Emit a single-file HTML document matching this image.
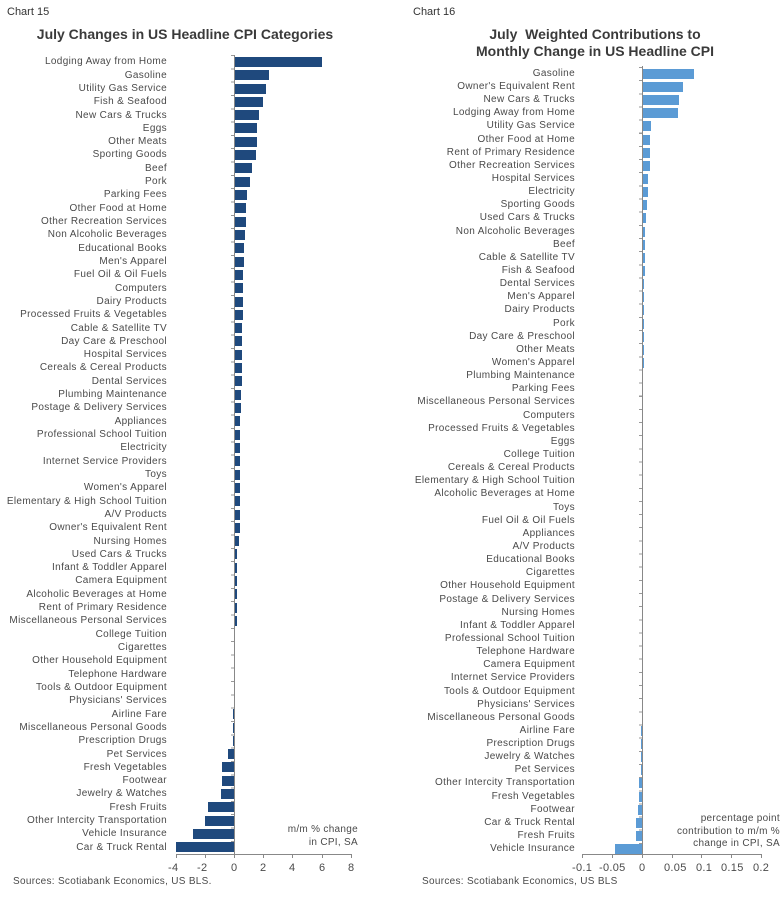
<!DOCTYPE html>
<html><head><meta charset="utf-8"><style>
body{margin:0;width:780px;height:898px;background:#fff;position:relative;overflow:hidden;font-family:"Liberation Sans",Arial,sans-serif;color:#4a4a4a}
.a{position:absolute;white-space:nowrap}
.ct{font-family:"Liberation Sans Narrow","Liberation Sans",sans-serif;font-size:11px;color:#333}
.tt{font-weight:bold;font-size:14px;color:#3a3a3a;text-align:center}
.rows{position:absolute;left:0}
.r{position:relative;font-size:10px;letter-spacing:0.35px}
.r span{position:absolute;right:0;text-align:right;white-space:nowrap}
.r i{position:absolute}
#L .r{height:13.32px;width:167px}
#L .r span{top:1px}
#L .r i{top:1.6px;height:10px;background:#1f497d}
#R .r{height:13.15px;width:575px}
#R .r span{top:0.5px}
#R .r i{top:1.5px;height:10px;background:#5b9bd5}
.sm{font-size:10px;color:#4a4a4a;letter-spacing:0.3px}
</style></head><body>
<div class="a ct" style="left:7px;top:6px">Chart 15</div>
<div class="a tt" style="left:0;width:370px;top:26px">July Changes in US Headline CPI Categories</div>
<div class="a ct" style="left:413px;top:6px">Chart 16</div>
<div class="a tt" style="left:445px;width:300px;top:26px;line-height:17px">July &nbsp;Weighted Contributions to<br>Monthly Change in US Headline CPI</div>

<div class="rows" id="L" style="top:55.3px">
<div class="r"><span>Lodging Away from Home</span><i style="left:234px;width:88px"></i></div>
<div class="r"><span>Gasoline</span><i style="left:234px;width:35px"></i></div>
<div class="r"><span>Utility Gas Service</span><i style="left:234px;width:32px"></i></div>
<div class="r"><span>Fish &amp; Seafood</span><i style="left:234px;width:29px"></i></div>
<div class="r"><span>New Cars &amp; Trucks</span><i style="left:234px;width:25px"></i></div>
<div class="r"><span>Eggs</span><i style="left:234px;width:23px"></i></div>
<div class="r"><span>Other Meats</span><i style="left:234px;width:23px"></i></div>
<div class="r"><span>Sporting Goods</span><i style="left:234px;width:22px"></i></div>
<div class="r"><span>Beef</span><i style="left:234px;width:18px"></i></div>
<div class="r"><span>Pork</span><i style="left:234px;width:16px"></i></div>
<div class="r"><span>Parking Fees</span><i style="left:234px;width:13px"></i></div>
<div class="r"><span>Other Food at Home</span><i style="left:234px;width:12px"></i></div>
<div class="r"><span>Other Recreation Services</span><i style="left:234px;width:12px"></i></div>
<div class="r"><span>Non Alcoholic Beverages</span><i style="left:234px;width:11px"></i></div>
<div class="r"><span>Educational Books</span><i style="left:234px;width:10px"></i></div>
<div class="r"><span>Men's Apparel</span><i style="left:234px;width:10px"></i></div>
<div class="r"><span>Fuel Oil &amp; Oil Fuels</span><i style="left:234px;width:9px"></i></div>
<div class="r"><span>Computers</span><i style="left:234px;width:9px"></i></div>
<div class="r"><span>Dairy Products</span><i style="left:234px;width:9px"></i></div>
<div class="r"><span>Processed Fruits &amp; Vegetables</span><i style="left:234px;width:9px"></i></div>
<div class="r"><span>Cable &amp; Satellite TV</span><i style="left:234px;width:8px"></i></div>
<div class="r"><span>Day Care &amp; Preschool</span><i style="left:234px;width:8px"></i></div>
<div class="r"><span>Hospital Services</span><i style="left:234px;width:8px"></i></div>
<div class="r"><span>Cereals &amp; Cereal Products</span><i style="left:234px;width:8px"></i></div>
<div class="r"><span>Dental Services</span><i style="left:234px;width:7.5px"></i></div>
<div class="r"><span>Plumbing Maintenance</span><i style="left:234px;width:6.5px"></i></div>
<div class="r"><span>Postage &amp; Delivery Services</span><i style="left:234px;width:6.5px"></i></div>
<div class="r"><span>Appliances</span><i style="left:234px;width:6px"></i></div>
<div class="r"><span>Professional School Tuition</span><i style="left:234px;width:6px"></i></div>
<div class="r"><span>Electricity</span><i style="left:234px;width:6px"></i></div>
<div class="r"><span>Internet Service Providers</span><i style="left:234px;width:6px"></i></div>
<div class="r"><span>Toys</span><i style="left:234px;width:6px"></i></div>
<div class="r"><span>Women's Apparel</span><i style="left:234px;width:5.5px"></i></div>
<div class="r"><span>Elementary &amp; High School Tuition</span><i style="left:234px;width:5.5px"></i></div>
<div class="r"><span>A/V Products</span><i style="left:234px;width:5.5px"></i></div>
<div class="r"><span>Owner's Equivalent Rent</span><i style="left:234px;width:5.5px"></i></div>
<div class="r"><span>Nursing Homes</span><i style="left:234px;width:5px"></i></div>
<div class="r"><span>Used Cars &amp; Trucks</span><i style="left:234px;width:3px"></i></div>
<div class="r"><span>Infant &amp; Toddler Apparel</span><i style="left:234px;width:3px"></i></div>
<div class="r"><span>Camera Equipment</span><i style="left:234px;width:3px"></i></div>
<div class="r"><span>Alcoholic Beverages at Home</span><i style="left:234px;width:3px"></i></div>
<div class="r"><span>Rent of Primary Residence</span><i style="left:234px;width:3px"></i></div>
<div class="r"><span>Miscellaneous Personal Services</span><i style="left:234px;width:2.5px"></i></div>
<div class="r"><span>College Tuition</span><i style="left:234px;width:1px"></i></div>
<div class="r"><span>Cigarettes</span><i style="left:234px;width:0.5px"></i></div>
<div class="r"><span>Other Household Equipment</span><i style="left:234px;width:0.5px"></i></div>
<div class="r"><span>Telephone Hardware</span><i style="left:234px;width:0.5px"></i></div>
<div class="r"><span>Tools &amp; Outdoor Equipment</span><i style="left:234px;width:0px"></i></div>
<div class="r"><span>Physicians' Services</span><i style="left:234px;width:0px"></i></div>
<div class="r"><span>Airline Fare</span><i style="left:232.5px;width:1.5px"></i></div>
<div class="r"><span>Miscellaneous Personal Goods</span><i style="left:232.5px;width:1.5px"></i></div>
<div class="r"><span>Prescription Drugs</span><i style="left:232.5px;width:1.5px"></i></div>
<div class="r"><span>Pet Services</span><i style="left:228px;width:6px"></i></div>
<div class="r"><span>Fresh Vegetables</span><i style="left:222px;width:12px"></i></div>
<div class="r"><span>Footwear</span><i style="left:222px;width:12px"></i></div>
<div class="r"><span>Jewelry &amp; Watches</span><i style="left:221px;width:13px"></i></div>
<div class="r"><span>Fresh Fruits</span><i style="left:208px;width:26px"></i></div>
<div class="r"><span>Other Intercity Transportation</span><i style="left:205px;width:29px"></i></div>
<div class="r"><span>Vehicle Insurance</span><i style="left:193px;width:41px"></i></div>
<div class="r"><span>Car &amp; Truck Rental</span><i style="left:176px;width:58px"></i></div>
</div>

<div class="rows" id="R" style="top:67.4px">
<div class="r"><span>Gasoline</span><i style="left:642px;width:52px"></i></div>
<div class="r"><span>Owner's Equivalent Rent</span><i style="left:642px;width:41px"></i></div>
<div class="r"><span>New Cars &amp; Trucks</span><i style="left:642px;width:37px"></i></div>
<div class="r"><span>Lodging Away from Home</span><i style="left:642px;width:36px"></i></div>
<div class="r"><span>Utility Gas Service</span><i style="left:642px;width:9px"></i></div>
<div class="r"><span>Other Food at Home</span><i style="left:642px;width:8px"></i></div>
<div class="r"><span>Rent of Primary Residence</span><i style="left:642px;width:8px"></i></div>
<div class="r"><span>Other Recreation Services</span><i style="left:642px;width:8px"></i></div>
<div class="r"><span>Hospital Services</span><i style="left:642px;width:5.5px"></i></div>
<div class="r"><span>Electricity</span><i style="left:642px;width:5.5px"></i></div>
<div class="r"><span>Sporting Goods</span><i style="left:642px;width:4.5px"></i></div>
<div class="r"><span>Used Cars &amp; Trucks</span><i style="left:642px;width:4px"></i></div>
<div class="r"><span>Non Alcoholic Beverages</span><i style="left:642px;width:3px"></i></div>
<div class="r"><span>Beef</span><i style="left:642px;width:3px"></i></div>
<div class="r"><span>Cable &amp; Satellite TV</span><i style="left:642px;width:3px"></i></div>
<div class="r"><span>Fish &amp; Seafood</span><i style="left:642px;width:2.5px"></i></div>
<div class="r"><span>Dental Services</span><i style="left:642px;width:2px"></i></div>
<div class="r"><span>Men's Apparel</span><i style="left:642px;width:2px"></i></div>
<div class="r"><span>Dairy Products</span><i style="left:642px;width:2px"></i></div>
<div class="r"><span>Pork</span><i style="left:642px;width:1.5px"></i></div>
<div class="r"><span>Day Care &amp; Preschool</span><i style="left:642px;width:1.5px"></i></div>
<div class="r"><span>Other Meats</span><i style="left:642px;width:1.5px"></i></div>
<div class="r"><span>Women's Apparel</span><i style="left:642px;width:1.5px"></i></div>
<div class="r"><span>Plumbing Maintenance</span><i style="left:642px;width:1px"></i></div>
<div class="r"><span>Parking Fees</span><i style="left:642px;width:1px"></i></div>
<div class="r"><span>Miscellaneous Personal Services</span><i style="left:642px;width:1px"></i></div>
<div class="r"><span>Computers</span><i style="left:642px;width:1px"></i></div>
<div class="r"><span>Processed Fruits &amp; Vegetables</span><i style="left:642px;width:1px"></i></div>
<div class="r"><span>Eggs</span><i style="left:642px;width:1px"></i></div>
<div class="r"><span>College Tuition</span><i style="left:642px;width:0.5px"></i></div>
<div class="r"><span>Cereals &amp; Cereal Products</span><i style="left:642px;width:0.5px"></i></div>
<div class="r"><span>Elementary &amp; High School Tuition</span><i style="left:642px;width:0.5px"></i></div>
<div class="r"><span>Alcoholic Beverages at Home</span><i style="left:642px;width:0.5px"></i></div>
<div class="r"><span>Toys</span><i style="left:642px;width:0.5px"></i></div>
<div class="r"><span>Fuel Oil &amp; Oil Fuels</span><i style="left:642px;width:0.5px"></i></div>
<div class="r"><span>Appliances</span><i style="left:642px;width:0.5px"></i></div>
<div class="r"><span>A/V Products</span><i style="left:642px;width:0.5px"></i></div>
<div class="r"><span>Educational Books</span><i style="left:642px;width:0.5px"></i></div>
<div class="r"><span>Cigarettes</span><i style="left:642px;width:0px"></i></div>
<div class="r"><span>Other Household Equipment</span><i style="left:642px;width:0px"></i></div>
<div class="r"><span>Postage &amp; Delivery Services</span><i style="left:642px;width:0px"></i></div>
<div class="r"><span>Nursing Homes</span><i style="left:642px;width:0px"></i></div>
<div class="r"><span>Infant &amp; Toddler Apparel</span><i style="left:642px;width:0px"></i></div>
<div class="r"><span>Professional School Tuition</span><i style="left:642px;width:0px"></i></div>
<div class="r"><span>Telephone Hardware</span><i style="left:642px;width:0px"></i></div>
<div class="r"><span>Camera Equipment</span><i style="left:642px;width:0px"></i></div>
<div class="r"><span>Internet Service Providers</span><i style="left:642px;width:0px"></i></div>
<div class="r"><span>Tools &amp; Outdoor Equipment</span><i style="left:642px;width:0px"></i></div>
<div class="r"><span>Physicians' Services</span><i style="left:642px;width:0px"></i></div>
<div class="r"><span>Miscellaneous Personal Goods</span><i style="left:641.5px;width:0.5px"></i></div>
<div class="r"><span>Airline Fare</span><i style="left:641px;width:1px"></i></div>
<div class="r"><span>Prescription Drugs</span><i style="left:641px;width:1px"></i></div>
<div class="r"><span>Jewelry &amp; Watches</span><i style="left:640.5px;width:1.5px"></i></div>
<div class="r"><span>Pet Services</span><i style="left:640.5px;width:1.5px"></i></div>
<div class="r"><span>Other Intercity Transportation</span><i style="left:639px;width:3px"></i></div>
<div class="r"><span>Fresh Vegetables</span><i style="left:639px;width:3px"></i></div>
<div class="r"><span>Footwear</span><i style="left:638px;width:4px"></i></div>
<div class="r"><span>Car &amp; Truck Rental</span><i style="left:636px;width:6px"></i></div>
<div class="r"><span>Fresh Fruits</span><i style="left:636px;width:6px"></i></div>
<div class="r"><span>Vehicle Insurance</span><i style="left:615px;width:27px"></i></div>
</div>

<svg class="a" style="left:0;top:0" width="780" height="898">
<g stroke="#888" stroke-width="1" fill="none">
<line x1="234.5" y1="55" x2="234.5" y2="855"/>
<line x1="176" y1="854.5" x2="351" y2="854.5"/>
<path d="M176.5 854v4M205.5 854v4M234.5 854v4M263.5 854v4M292.5 854v4M322.5 854v4M351.5 854v4"/>
<line x1="642.5" y1="66" x2="642.5" y2="855"/>
<line x1="582" y1="854.5" x2="761" y2="854.5"/>
<path d="M582.5 854v4M612.5 854v4M642.5 854v4M672.5 854v4M701.5 854v4M731.5 854v4M761.5 854v4"/>
</g>
</svg>
<div class="a" style="left:231px;top:55.3px;width:3px;height:799px;background:repeating-linear-gradient(to bottom,#999 0 1px,transparent 1px 13.32px)"></div>
<div class="a" style="left:639px;top:67.4px;width:3px;height:788px;background:repeating-linear-gradient(to bottom,#999 0 1px,transparent 1px 13.15px)"></div>

<div class="a sm" style="left:166px;top:862px;width:200px;font-size:11px">
<span class="a" style="left:2px">-4</span><span class="a" style="left:31px">-2</span><span class="a" style="left:65px">0</span><span class="a" style="left:94px">2</span><span class="a" style="left:123px">4</span><span class="a" style="left:153px">6</span><span class="a" style="left:182px">8</span></div>
<div class="a sm" style="left:0;top:862px;font-size:11px">
<span class="a" style="left:572px">-0.1</span><span class="a" style="left:599px">-0.05</span><span class="a" style="left:639px">0</span><span class="a" style="left:664px">0.05</span><span class="a" style="left:696px">0.1</span><span class="a" style="left:721px">0.15</span><span class="a" style="left:753px">0.2</span></div>

<div class="a sm" style="left:248px;width:110px;top:823px;text-align:right;line-height:13px">m/m % change<br>in CPI, SA</div>
<div class="a sm" style="left:630px;width:150px;top:813px;text-align:right;line-height:12.5px">percentage point<br>contribution to m/m %<br>change in CPI, SA</div>
<div class="a sm" style="left:13px;top:876px">Sources: Scotiabank Economics, US BLS.</div>
<div class="a sm" style="left:422px;top:876px">Sources: Scotiabank Economics, US BLS</div>
</body></html>
